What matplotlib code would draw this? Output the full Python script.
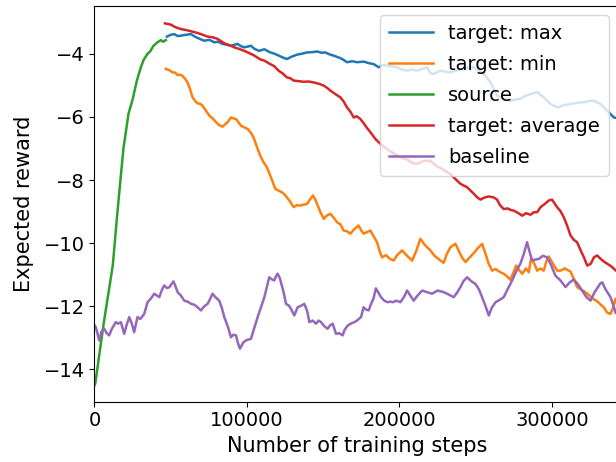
import numpy as np
import matplotlib
matplotlib.use('Agg')
import matplotlib.pyplot as plt

# training steps in thousands
src_x = [0, 0.5, 6, 12, 14.7, 17, 19, 22.3, 25, 27.8, 30.4, 32.2, 34.8, 36.5, 38.7, 41.3, 43.5, 45, 46.8]
src_y = [-14.5, -14.45, -12.55, -10.7, -9.2, -8.0, -7.0, -5.9, -5.45, -4.85, -4.43, -4.2, -4.0, -3.93, -3.75,
         -3.64, -3.57, -3.62, -3.57]

max_x = [47.5, 50, 52.3, 54.5, 56.7, 60, 63.3, 65.5, 67.6, 70, 72, 75.3, 78.6, 81, 84, 87, 89.5, 93.8, 96, 98.2,
         102.6, 105, 108, 111.4, 115.3, 118, 120.8, 123.5, 126.2, 129, 132.8, 136, 139.4, 143, 146, 149, 151.4,
         154, 156.8, 161.2, 163.5, 165.6, 169, 172.2, 176.5, 180, 183.1, 186.4, 189, 191.9, 195, 198.4, 201.5,
         205, 208, 211.6, 215, 218.1, 220.3, 222.4, 226.8, 230, 233.3, 238, 242.1, 245, 248.7, 252, 255.3,
         259.7, 264.1, 268, 272.8, 276, 279.3, 283, 285.9, 290.3, 294.6, 299, 303.4, 308, 312.2, 316, 320.9,
         324, 327.5, 331.8, 336.2, 340.6, 344]
max_y = [-3.46, -3.40, -3.38, -3.44, -3.43, -3.40, -3.38, -3.45, -3.50, -3.55, -3.59, -3.56, -3.64, -3.62,
         -3.69, -3.72, -3.75, -3.69, -3.76, -3.80, -3.75, -3.85, -3.91, -3.86, -3.96, -4.00, -4.06, -4.12,
         -4.17, -4.10, -4.03, -4.00, -3.96, -3.95, -3.93, -3.97, -3.96, -4.02, -4.06, -4.14, -4.20, -4.27,
         -4.24, -4.27, -4.25, -4.30, -4.33, -4.43, -4.36, -4.38, -4.40, -4.43, -4.50, -4.54, -4.50, -4.54,
         -4.48, -4.43, -4.62, -4.64, -4.54, -4.57, -4.59, -4.52, -4.48, -4.45, -4.43, -4.52, -4.64, -4.91,
         -5.33, -5.42, -5.49, -5.45, -5.43, -5.33, -5.28, -5.22, -5.38, -5.59, -5.70, -5.63, -5.59, -5.56,
         -5.54, -5.50, -5.49, -5.59, -5.80, -6.02, -6.05]

min_x = [46.8, 49, 51.2, 53, 54.5, 56, 57.7, 59.5, 61, 62.5, 64.3, 66, 67.6, 69.4, 70.9, 73, 75.3, 77.5, 80.7,
         82.5, 84, 85.5, 87.3, 89.5, 91.2, 92.8, 94.5, 96.1, 98, 100.4, 102.5, 104.3, 106.5, 108.7, 111, 113.1,
         116, 118.6, 120.5, 123, 124.5, 126.2, 128.5, 130.6, 132.5, 135, 137, 139.4, 141.5, 143.3, 144.8, 146,
         148, 150.3, 152.5, 154.7, 157, 159.1, 161.2, 163.4, 165.5, 167.8, 170.5, 173.2, 175, 176.5, 178.7,
         180.9, 183, 185.3, 187, 188.6, 191, 194, 196.2, 198.5, 201.7, 205, 208.3, 211, 213.7, 216.5, 220.3,
         223, 226.8, 229, 231, 233.4, 236.7, 239, 241, 243.3, 246, 249, 251.5, 254.2, 256.5, 258.5, 260.8,
         263, 265.5, 268.4, 270.5, 272.8, 274.5, 276.5, 278.5, 280.5, 283, 284.8, 286.3, 288, 290.3, 292.5,
         294.6, 296.5, 297.9, 300, 303.4, 305.6, 308.5, 312.2, 314.5, 316.5, 318.5, 321, 323.1, 325.5, 327.5,
         330, 332, 334, 336.2, 338.4, 340, 341.7, 343, 344]
min_y = [-4.48, -4.52, -4.59, -4.60, -4.68, -4.66, -4.70, -4.80, -4.91, -5.10, -5.38, -5.50, -5.57, -5.59,
         -5.65, -5.80, -5.96, -6.05, -6.22, -6.28, -6.31, -6.24, -6.17, -6.02, -6.05, -6.07, -6.18, -6.28,
         -6.33, -6.38, -6.50, -6.65, -6.95, -7.23, -7.45, -7.60, -7.95, -8.28, -8.33, -8.39, -8.45, -8.55,
         -8.70, -8.86, -8.80, -8.81, -8.78, -8.76, -8.60, -8.49, -8.62, -8.76, -9.00, -9.23, -9.12, -9.07,
         -9.20, -9.34, -9.40, -9.60, -9.62, -9.70, -9.55, -9.44, -9.60, -9.70, -9.65, -9.60, -9.78, -9.97,
         -10.25, -10.45, -10.38, -10.50, -10.55, -10.38, -10.23, -10.40, -10.55, -10.25, -9.86, -10.05,
         -10.23, -10.40, -10.55, -10.62, -10.35, -10.13, -10.02, -10.25, -10.45, -10.60, -10.45, -10.30,
         -10.15, -10.02, -10.35, -10.65, -10.87, -10.82, -10.90, -10.97, -11.05, -11.16, -10.95, -10.71,
         -10.85, -10.97, -10.80, -10.92, -10.50, -10.60, -10.87, -10.80, -10.87, -10.55, -10.42, -10.60,
         -10.87, -10.87, -10.80, -10.90, -11.15, -11.39, -11.45, -11.52, -11.60, -11.70, -11.78, -11.85,
         -11.95, -12.03, -12.20, -12.24, -12.05, -11.76, -11.95, -12.20]

avg_x = [46.2, 50.1, 53, 56.7, 60, 63.3, 66.5, 69.8, 74.2, 77.5, 80.7, 85.1, 88, 91.7, 95, 98.2, 101.5, 104.8,
         108.7, 111.4, 115.3, 118, 120.8, 123.5, 126.2, 128.5, 130.6, 134, 137.1, 140.5, 143.7, 147, 150.3,
         152.5, 154.7, 158, 161.2, 163.5, 165.6, 168, 170, 172, 174.4, 176.5, 178.7, 181.5, 184.2, 188, 191.9,
         196, 200.6, 205, 208, 211.6, 216, 220.3, 224, 228, 233.3, 237.8, 240, 244.4, 248, 251, 253.1, 256,
         258.5, 261.8, 264, 266, 268.4, 271, 273, 275, 278, 280.5, 283, 286, 288.1, 290.3, 292.5, 295.5, 297.9,
         300, 303.4, 305.5, 307.8, 310, 312.2, 314.5, 316.5, 319, 321, 323.1, 325.5, 327.5, 329.7, 332, 334,
         336.2, 338.5, 340.6, 342, 344]
avg_y = [-3.04, -3.08, -3.16, -3.22, -3.25, -3.29, -3.33, -3.38, -3.46, -3.48, -3.53, -3.67, -3.72, -3.80,
         -3.85, -3.91, -3.98, -4.06, -4.18, -4.22, -4.33, -4.40, -4.54, -4.63, -4.75, -4.78, -4.85, -4.87,
         -4.89, -4.88, -4.91, -4.95, -5.01, -5.08, -5.17, -5.28, -5.38, -5.52, -5.70, -5.85, -6.02, -5.98,
         -6.07, -6.20, -6.35, -6.52, -6.70, -6.88, -7.02, -7.15, -7.28, -7.35, -7.45, -7.49, -7.39, -7.39,
         -7.55, -7.65, -7.81, -8.02, -8.12, -8.23, -8.40, -8.55, -8.62, -8.55, -8.52, -8.55, -8.62, -8.80,
         -8.92, -8.90, -8.95, -8.97, -9.05, -9.13, -9.05, -9.10, -9.02, -9.02, -8.86, -8.75, -8.65, -8.62,
         -8.86, -8.98, -9.18, -9.45, -9.76, -9.90, -9.97, -10.25, -10.45, -10.71, -10.65, -10.45, -10.39,
         -10.50, -10.58, -10.65, -10.72, -10.81, -10.87, -10.90]

base_x = [0, 0.9, 3.1, 4.5, 6.4, 8, 9.6, 11.5, 14, 15.5, 17.3, 19.5, 21, 22.8, 24.5, 26, 28.2, 30, 32.6, 34.8,
          37, 39.2, 42.5, 44, 45.7, 47.5, 49, 51.8, 53, 54.5, 56.5, 58.9, 61, 63.3, 65.5, 67.6, 69.8, 72, 74.2,
          76, 77.4, 79.5, 81.8, 83.5, 85.1, 87.5, 89.5, 91, 92.8, 94, 95.4, 97.5, 99.3, 101, 102.6, 105, 107,
          109, 111.4, 113, 114.6, 116.5, 117.9, 119, 120.1, 121.5, 122.3, 124, 125.6, 127.5, 128.9, 131, 133.2,
          135.5, 137.6, 139.5, 140.9, 143, 145.3, 147, 148.6, 150.5, 152.9, 154.5, 156.2, 158.4, 160.5, 162.7,
          164, 166, 168, 170.4, 172.2, 174.8, 176.5, 178, 179.8, 181.4, 183, 184.5, 186, 187.9, 190, 192.3, 194,
          195.6, 198, 200.6, 203, 205, 207, 209.3, 212, 214.9, 218, 221.4, 225, 229, 232, 235.6, 238, 240, 242,
          244.4, 247, 249.8, 252, 254.2, 256.5, 258.6, 260.5, 263, 265.5, 268.4, 271, 273.9, 276.5, 279.3,
          281.5, 283.7, 285.5, 287, 289, 291.4, 294, 296.9, 299.5, 302.3, 305.6, 308.9, 311.5, 314.3, 317,
          319.8, 322.5, 325.3, 328, 331.8, 333, 335, 338.4, 340.5, 341.7, 344]
base_y = [-12.6, -12.66, -13.08, -12.8, -12.71, -12.85, -12.92, -12.7, -12.50, -12.55, -12.50, -12.87, -12.6,
          -12.34, -12.55, -12.82, -12.34, -12.40, -12.24, -11.87, -11.75, -11.60, -11.71, -11.50, -11.34,
          -11.42, -11.40, -11.21, -11.35, -11.55, -11.65, -11.82, -11.85, -11.92, -11.95, -12.03, -12.13,
          -12.00, -11.92, -11.75, -11.60, -11.72, -11.82, -12.05, -12.34, -12.65, -12.98, -12.90, -12.92,
          -13.15, -13.34, -13.15, -13.08, -13.05, -13.03, -12.65, -12.34, -12.05, -11.71, -11.40, -11.08,
          -11.15, -11.18, -11.05, -10.97, -11.10, -11.24, -11.55, -11.92, -11.98, -12.08, -12.29, -12.03,
          -11.98, -11.92, -12.15, -12.50, -12.45, -12.55, -12.45, -12.50, -12.62, -12.71, -12.60, -12.55,
          -12.87, -12.85, -12.92, -12.75, -12.61, -12.55, -12.50, -12.45, -12.34, -12.03, -12.10, -12.13,
          -11.92, -11.75, -11.43, -11.55, -11.71, -11.82, -11.87, -11.85, -11.87, -11.82, -11.87, -11.70,
          -11.50, -11.65, -11.82, -11.65, -11.50, -11.55, -11.60, -11.50, -11.55, -11.62, -11.71, -11.55,
          -11.39, -11.20, -11.08, -11.20, -11.29, -11.45, -11.71, -12.00, -12.29, -12.05, -11.87, -11.80,
          -11.71, -11.45, -11.18, -10.90, -10.65, -10.35, -9.97, -10.30, -10.55, -10.52, -10.50, -10.40,
          -10.45, -10.70, -11.03, -11.18, -11.39, -11.25, -11.15, -11.30, -11.50, -11.70, -11.82, -11.55,
          -11.27, -11.24, -11.45, -11.71, -12.0, -12.20, -12.3]

plt.rcParams['font.size'] = 14
fig = plt.figure(figsize=(6.16, 4.62), dpi=100)
# axes run past the right edge, as in the cropped original
ax = fig.add_axes([0.1534, 0.1305, 0.854, 0.8565])

lw = 1.8
ax.plot(np.array(max_x) * 1000, max_y, lw=lw, label='target: max')
ax.plot(np.array(min_x) * 1000, min_y, lw=lw, label='target: min')
ax.plot(np.array(src_x) * 1000, src_y, lw=lw, label='source')
ax.plot(np.array(avg_x) * 1000, avg_y, lw=lw, label='target: average')
ax.plot(np.array(base_x) * 1000, base_y, lw=lw, label='baseline')

ax.set_xlim(0, 345000)
ax.set_ylim(-15.02, -2.49)
ax.set_xticks([0, 100000, 200000, 300000])
ax.set_yticks([-14, -12, -10, -8, -6, -4])
ax.set_xlabel('Number of training steps', fontsize=15)
ax.set_ylabel('Expected reward', fontsize=15, labelpad=7)

ax.legend(loc='upper left', bbox_to_anchor=(380 / 616, 1 - 15 / 462),
          bbox_transform=fig.transFigure, borderaxespad=0, fontsize=14,
          labelspacing=0.62, handlelength=2.25, borderpad=0.45)

fig.savefig('out.png', dpi=100)
